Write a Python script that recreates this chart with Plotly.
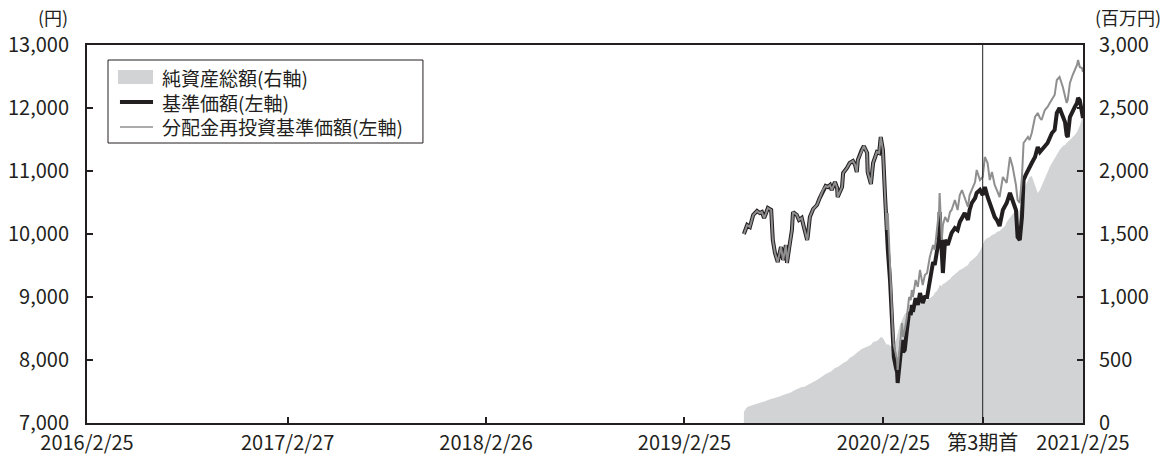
import plotly.graph_objects as go

# ---- data -------------------------------------------------------------
dates = [
    "2019-06-14", "2019-06-20", "2019-06-25", "2019-07-01", "2019-07-08", "2019-07-13",
    "2019-07-17", "2019-07-21", "2019-07-24", "2019-07-28", "2019-08-03", "2019-08-06",
    "2019-08-10", "2019-08-15", "2019-08-21", "2019-08-25", "2019-08-30", "2019-09-01",
    "2019-09-05", "2019-09-10", "2019-09-12", "2019-09-19", "2019-09-23", "2019-09-28",
    "2019-10-02", "2019-10-08", "2019-10-09", "2019-10-13", "2019-10-19", "2019-10-26",
    "2019-10-31", "2019-11-06", "2019-11-11", "2019-11-15", "2019-11-19", "2019-11-22",
    "2019-11-28", "2019-12-02", "2019-12-03", "2019-12-11", "2019-12-13", "2019-12-20",
    "2019-12-25", "2019-12-31", "2020-01-04", "2020-01-07", "2020-01-09", "2020-01-16",
    "2020-01-20", "2020-01-26", "2020-01-27", "2020-02-02", "2020-02-06", "2020-02-13",
    "2020-02-17", "2020-02-20", "2020-02-24", "2020-02-28",
    "2020-03-02", "2020-03-04", "2020-03-08", "2020-03-11", "2020-03-13", "2020-03-15",
    "2020-03-19", "2020-03-21", "2020-03-22", "2020-03-26", "2020-03-30", "2020-04-01",
    "2020-04-04", "2020-04-08", "2020-04-12", "2020-04-15", "2020-04-17", "2020-04-19",
    "2020-04-24", "2020-04-28", "2020-05-02", "2020-05-07", "2020-05-11", "2020-05-15",
    "2020-05-20", "2020-05-26", "2020-05-29", "2020-06-02", "2020-06-06", "2020-06-07",
    "2020-06-11", "2020-06-13", "2020-06-17", "2020-06-22", "2020-06-26", "2020-06-29",
    "2020-07-05", "2020-07-10", "2020-07-14", "2020-07-18", "2020-07-23", "2020-07-29",
    "2020-08-01", "2020-08-05", "2020-08-11", "2020-08-14", "2020-08-20", "2020-08-25",
    "2020-08-29", "2020-09-03", "2020-09-07", "2020-09-11", "2020-09-16", "2020-09-20",
    "2020-09-25", "2020-10-01", "2020-10-05", "2020-10-08", "2020-10-14", "2020-10-19",
    "2020-10-25", "2020-10-28", "2020-11-01", "2020-11-05", "2020-11-08", "2020-11-12",
    "2020-11-16", "2020-11-19", "2020-11-23", "2020-11-29", "2020-12-04", "2020-12-08",
    "2020-12-11", "2020-12-17", "2020-12-22", "2020-12-26", "2020-12-30", "2021-01-04",
    "2021-01-08", "2021-01-13", "2021-01-19", "2021-01-23", "2021-01-26", "2021-01-28",
    "2021-02-01", "2021-02-06", "2021-02-10", "2021-02-14", "2021-02-16", "2021-02-19",
    "2021-02-23", "2021-02-25",
]

# 基準価額 (円)
nav = [
    10000, 10143, 10111, 10302, 10365, 10333, 10349, 10254, 10317, 10413, 10381, 9905,
    9698, 9556, 9794, 9587, 9825, 9540, 9778, 10063, 10349, 10302, 10222, 10254,
    10111, 9905, 9952, 10270, 10397, 10460, 10571, 10698, 10762, 10746, 10778, 10698,
    10825, 10730, 10587, 10746, 10968, 11048, 11127, 11159, 11095, 10984, 11175, 11333,
    11397, 11286, 10984, 10794, 11127, 11302, 11286, 11540, 11333, 10587,
    9905, 9746, 9270, 8635, 8317, 8048, 7873, 7810, 7635, 8000, 8317, 8127,
    8159, 8476, 8762, 8714, 8873, 8762, 8984, 8873, 9063, 8905, 9000, 9000,
    9238, 9556, 9508, 9714, 9937, 10349, 9460, 9381, 9905, 9825, 9937, 10016,
    10095, 10063, 10190, 10270, 10333, 10222, 10381, 10492, 10571, 10651, 10698, 10619,
    10746, 10587, 10492, 10429, 10270, 10222, 10127, 10381, 10460, 10492, 10651, 10540,
    10381, 9952, 9905, 10270, 10857, 10937, 11016, 11048, 11127, 11222, 11381, 11302,
    11333, 11381, 11444, 11524, 11603, 11651, 11921, 12000, 11857, 11778, 11571, 11540,
    11857, 11968, 12016, 12079, 12159, 12127, 11968, 11841,
]

# 分配金再投資基準価額 (円)
nav_reinvested = [
    10000, 10143, 10111, 10302, 10365, 10333, 10349, 10254, 10317, 10413, 10381, 9905,
    9698, 9556, 9794, 9587, 9825, 9540, 9778, 10063, 10349, 10302, 10222, 10254,
    10111, 9905, 9952, 10270, 10397, 10460, 10571, 10698, 10762, 10746, 10778, 10698,
    10825, 10730, 10587, 10746, 10968, 11048, 11127, 11159, 11095, 10984, 11175, 11333,
    11397, 11286, 10984, 10794, 11127, 11302, 11286, 11540, 11333, 10587,
    10063, 10333, 9429, 8794, 8476, 8238, 8079, 8000, 7841, 8270, 8587, 8365,
    8476, 8683, 9000, 8952, 9111, 9000, 9270, 9159, 9429, 9190, 9349, 9381,
    9635, 9825, 9746, 10063, 10381, 10651, 9905, 10143, 10270, 10190, 10349, 10381,
    10540, 10381, 10619, 10698, 10587, 10429, 10619, 10698, 10825, 11016, 10857, 10905,
    11222, 11127, 10857, 10984, 10778, 10698, 10587, 10905, 10857, 10810, 11222, 11063,
    10778, 10540, 10492, 10905, 11444, 11492, 11540, 11492, 11603, 11857, 11921, 11841,
    11810, 11968, 12016, 12079, 12127, 12206, 12444, 12492, 12333, 12206, 12079, 12127,
    12397, 12524, 12603, 12683, 12762, 12651, 12635, 12571,
]

# 純資産総額 (百万円)
net_assets = [
    90, 127, 135, 143, 151, 159, 167, 167, 175, 183, 190, 198,
    198, 206, 214, 222, 230, 230, 238, 246, 254, 270, 278, 286,
    286, 302, 302, 310, 325, 341, 357, 373, 389, 397, 405, 413,
    437, 444, 444, 468, 476, 492, 516, 532, 548, 564, 564, 587,
    595, 603, 611, 619, 643, 651, 667, 683, 675, 635,
    619, 627, 611, 603, 619, 635, 659, 690, 706, 778, 817, 833,
    865, 881, 897, 905, 913, 921, 929, 937, 952, 960, 968, 976,
    992, 1008, 1032, 1048, 1079, 1095, 1087, 1103, 1111, 1127, 1143, 1159,
    1183, 1198, 1214, 1222, 1238, 1254, 1278, 1294, 1310, 1325, 1365, 1421,
    1452, 1468, 1476, 1492, 1500, 1516, 1524, 1548, 1563, 1595, 1627, 1659,
    1675, 1683, 1690, 1746, 1833, 1889, 1929, 1952, 1960, 1889, 1825, 1849,
    1881, 1944, 2000, 2032, 2063, 2103, 2127, 2167, 2198, 2206, 2222, 2230,
    2246, 2270, 2286, 2310, 2325, 2357, 2413, 2437,
]

x_tick_dates = ["2016-02-25", "2017-02-27", "2018-02-26", "2019-02-25",
                "2020-02-25", "2020-08-25", "2021-02-25"]
x_tick_labels = ["2016/2/25", "2017/2/27", "2018/2/26", "2019/2/25",
                 "2020/2/25", "第3期首", "2021/2/25"]
period_start = "2020-08-25"

yen_ticks = [7000, 8000, 9000, 10000, 11000, 12000, 13000]
asset_ticks = [0, 500, 1000, 1500, 2000, 2500, 3000]

legend_labels = ["純資産総額(右軸)", "基準価額(左軸)", "分配金再投資基準価額(左軸)"]

# ---- style ------------------------------------------------------------
INK = "#231f20"
AREA = "#d1d3d4"
GREY_LINE = "#8f8f8f"
FONT = "Noto Sans CJK JP"

fig = go.Figure()

# net assets on the right-hand scale (primary axis, drawn underneath)
fig.add_trace(go.Scatter(
    x=dates, y=net_assets, name=legend_labels[0], mode="lines",
    fill="tozeroy", fillcolor=AREA, line=dict(width=0, color=AREA),
    yaxis="y", showlegend=False, hoverinfo="skip",
))
# NAV lines on the left-hand scale (overlay axis, drawn above the area)
fig.add_trace(go.Scatter(
    x=dates, y=nav, name=legend_labels[1], mode="lines",
    line=dict(color=INK, width=4), yaxis="y2", showlegend=False,
))
fig.add_trace(go.Scatter(
    x=dates, y=nav_reinvested, name=legend_labels[2], mode="lines",
    line=dict(color=GREY_LINE, width=2), yaxis="y2", showlegend=False,
))

axis_common = dict(
    showline=True, linecolor=INK, linewidth=2,
    ticks="inside", ticklen=6, tickwidth=1.5, tickcolor=INK,
    showgrid=False, zeroline=False, automargin=False,
    tickfont=dict(family=FONT, size=20, color=INK),
)

fig.update_layout(
    width=1167, height=455,
    margin=dict(l=87, r=84, t=45, b=32),
    paper_bgcolor="white", plot_bgcolor="white",
    font=dict(family=FONT, size=20, color=INK),
    xaxis=dict(
        type="date", range=["2016-02-25", "2021-02-25"],
        tickvals=x_tick_dates, ticktext=x_tick_labels,
        mirror=True, ticklabelstandoff=1, **axis_common,
    ),
    yaxis=dict(
        side="right", range=[0, 3000], tickvals=asset_ticks,
        ticktext=[f"{v:,}" for v in asset_ticks],
        ticklabelstandoff=10, **axis_common,
    ),
    yaxis2=dict(
        side="left", overlaying="y", range=[7000, 13000], tickvals=yen_ticks,
        ticktext=[f"{v:,}" for v in yen_ticks],
        ticklabelstandoff=12, **axis_common,
    ),
    showlegend=False,
)

# start of the 3rd fiscal period
fig.add_shape(type="line", xref="x", yref="paper", x0=period_start, x1=period_start,
              y0=0, y1=1, line=dict(color=INK, width=1), layer="above")

# unit labels
fig.add_annotation(text="(円)", xref="paper", yref="paper", x=-0.034, y=1.074,
                   showarrow=False, xanchor="center", yanchor="middle",
                   font=dict(family=FONT, size=18, color=INK))
fig.add_annotation(text="(百万円)", xref="paper", yref="paper", x=1.045, y=1.074,
                   showarrow=False, xanchor="center", yanchor="middle",
                   font=dict(family=FONT, size=18, color=INK))

# legend: frame, swatches and a three-line caption
fig.add_shape(type="rect", xref="paper", yref="paper", x0=0.0211, x1=0.3373,
              y0=0.7407, y1=0.9603, line=dict(color=INK, width=1),
              fillcolor="white", layer="above")
fig.add_shape(type="rect", xref="paper", yref="paper", x0=0.0311, x1=0.0663,
              y0=0.8968, y1=0.9339, line=dict(width=0), fillcolor=AREA, layer="above")
fig.add_shape(type="line", xref="paper", yref="paper", x0=0.0331, x1=0.0663,
              y0=0.8492, y1=0.8492, line=dict(color=INK, width=4), layer="above")
fig.add_shape(type="line", xref="paper", yref="paper", x0=0.0331, x1=0.0663,
              y0=0.7831, y1=0.7831, line=dict(color=GREY_LINE, width=1.5), layer="above")
fig.add_annotation(text="<br>".join(legend_labels), xref="paper", yref="paper",
                   x=0.0733, y=0.8492, showarrow=False, xanchor="left",
                   yanchor="middle", align="left",
                   font=dict(family=FONT, size=19, color=INK))

fig.write_html("out.html")
